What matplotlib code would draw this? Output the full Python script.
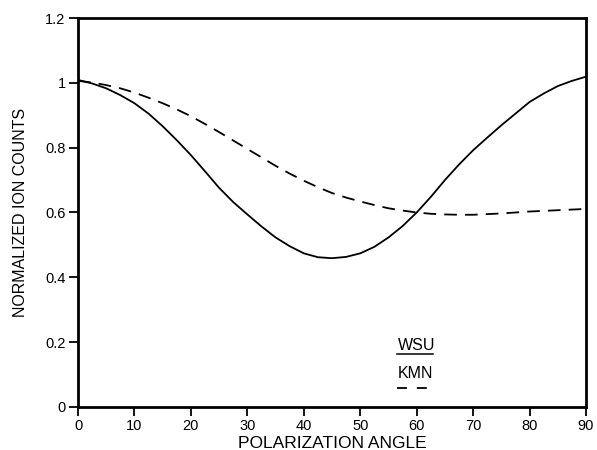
import matplotlib
matplotlib.use("Agg")
import matplotlib.pyplot as plt

plt.rcParams['font.family'] = ['Liberation Sans', 'DejaVu Sans']

# WSU (solid)
wsu_x = [0, 2.5, 5, 7.5, 10, 12.5, 15, 17.5, 20, 22.5, 25, 27.5, 30, 32.5, 35, 37.5, 40, 42.5, 45,
         47.5, 50, 52.5, 55, 57.5, 60, 62.5, 65, 67.5, 70, 72.5, 75, 77.5, 80, 82.5, 85, 87.5, 90]
wsu_y = [1.009, 0.998, 0.983, 0.962, 0.937, 0.905, 0.866, 0.823, 0.777, 0.727, 0.676, 0.632, 0.594,
         0.557, 0.523, 0.496, 0.474, 0.462, 0.459, 0.463, 0.474, 0.494, 0.523, 0.558, 0.600, 0.648,
         0.700, 0.748, 0.792, 0.831, 0.869, 0.905, 0.941, 0.967, 0.990, 1.006, 1.019]

# KMN (dashed)
kmn_x = [0, 2.5, 5, 7.5, 10, 12.5, 15, 17.5, 20, 22.5, 25, 27.5, 30, 32.5, 35, 37.5, 40, 42.5, 45,
         47.5, 50, 52.5, 55, 57.5, 60, 62.5, 65, 67.5, 70, 72.5, 75, 77.5, 80, 82.5, 85, 87.5, 90]
kmn_y = [1.006, 1.001, 0.993, 0.983, 0.970, 0.954, 0.937, 0.918, 0.897, 0.873, 0.848, 0.822, 0.796,
         0.770, 0.744, 0.720, 0.698, 0.678, 0.660, 0.646, 0.634, 0.623, 0.613, 0.606, 0.600, 0.596,
         0.594, 0.593, 0.593, 0.595, 0.597, 0.600, 0.603, 0.605, 0.607, 0.609, 0.611]

xticks = [0, 10, 20, 30, 40, 50, 60, 70, 80, 90]
yticks = [0, 0.2, 0.4, 0.6, 0.8, 1.0, 1.2]
ytick_labels = ["0", "0.2", "0.4", "0.6", "0.8", "1", "1.2"]

fig = plt.figure(figsize=(5.97, 4.50), dpi=100)
ax = fig.add_axes([0.1307, 0.0956, 0.8509, 0.8644])

ax.plot(wsu_x, wsu_y, color='black', lw=1.3, solid_capstyle='round', solid_joinstyle='round')
ax.plot(kmn_x, kmn_y, color='black', lw=1.3, linestyle=(0, (7, 4.5)))

ax.set_xlim(0, 90)
ax.set_ylim(0, 1.2)
ax.set_xticks(xticks)
ax.set_xticklabels([str(v) for v in xticks])
ax.set_yticks(yticks)
ax.set_yticklabels(ytick_labels)
ax.tick_params(direction='out', length=6.5, width=1.3, labelsize=10.5, pad=2.5)
for s in ax.spines.values():
    s.set_linewidth(2.0)

ax.set_xlabel("POLARIZATION ANGLE", fontsize=12.5, labelpad=2)
ax.set_ylabel("NORMALIZED ION COUNTS", fontsize=11.5, labelpad=12)

# legend (text above sample line)
ax.text(56.6, 0.176, "WSU", fontsize=11.5, ha='left', va='baseline')
ax.plot([56.6, 62.9], [0.164, 0.164], color='black', lw=1.1)
ax.text(56.6, 0.090, "KMN", fontsize=11.5, ha='left', va='baseline')
ax.plot([56.6, 62.9], [0.058, 0.058], color='black', lw=1.3, linestyle=(0, (5.5, 5.5)))

fig.savefig("out.png", dpi=100)
